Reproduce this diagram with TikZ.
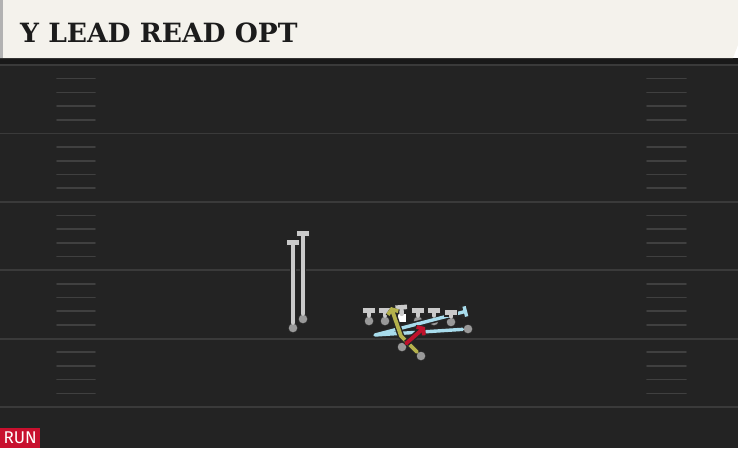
\documentclass[tikz,border=0pt]{standalone}
\usepackage{fontspec}
\setmainfont{DejaVu Serif}
\newfontfamily\tagfont{Fira Sans}
\usetikzlibrary{arrows.meta,positioning}
\definecolor{paper}{HTML}{F4F2EC}
\definecolor{turf}{HTML}{232323}
\definecolor{yardgrey}{HTML}{3A3A3A}
\definecolor{hashgrey}{HTML}{404040}
\definecolor{blockgrey}{HTML}{CACACA}
\definecolor{optyellow}{HTML}{B4B14C}
\definecolor{qbred}{HTML}{C0122C}
\definecolor{motionblue}{HTML}{A8DCEC}
\definecolor{runred}{HTML}{C8102E}
\definecolor{titleink}{HTML}{1C1C1C}
\begin{document}
\begin{tikzpicture}[x=1pt,y=-1pt,
				player/.style={circle,draw=black!85,fill=black!40,line width=1pt,inner sep=0pt,minimum size=10pt},
				ball/.style={rectangle,fill=white,inner sep=0pt,minimum size=8pt},
				outl/.style={line cap=round,line join=round,preaction={draw=black!85,line width=6.6pt}},
				blk/.style={outl,draw=blockgrey,line width=4.6pt,-{Bar[width=7pt 1]}},
				optrt/.style={outl,draw=optyellow,line width=3.8pt,-{Straight Barb[length=4pt,width=11pt]}},
				qbrt/.style={outl,draw=qbred,line width=3.8pt,-{Straight Barb[length=4pt,width=11pt]}},
				motrt/.style={outl,draw=motionblue,line width=3.4pt,-{Bar[width=7pt 1]}},
				yard/.style={draw=yardgrey,line width=1.8pt},
				hash/.style={draw=hashgrey,line width=1.6pt,line cap=round}]
				\useasboundingbox (0,0) rectangle (738,448);
				% field and header
				\fill[turf] (0,58) rectangle (738,448);
				\fill[black!90] (0,58) rectangle (738,64);
				\fill[paper] (0,0) -- (738,0) -- (738,45) -- (733,58) -- (0,58) -- cycle;
				\fill[black!30] (0,0) rectangle (3,58);
				\foreach \k in {0,...,5}
					\draw[yard] (0,{65+68.4*\k}) -- (738,{65+68.4*\k});
				\foreach \k in {0,...,4}
					\foreach \j in {1,...,4} {
						\draw[hash] (57,{65+68.4*\k+13.68*\j}) -- (95,{65+68.4*\k+13.68*\j});
						\draw[hash] (647,{65+68.4*\k+13.68*\j}) -- (686,{65+68.4*\k+13.68*\j});
					}
				\node[anchor=base west,inner sep=0pt,text=titleink,font=\bfseries\fontsize{26.5}{30}\selectfont] (title) at (20,42) {Y LEAD READ OPT};
				\node[anchor=south west,fill=runred,text=white,inner sep=0pt,minimum width=40pt,minimum height=20pt,font=\tagfont\fontsize{17}{17}\selectfont] (tag) at (0,448) {RUN};

				% players
				\node[player] (WRL) at (293,328) {};
				\node[player] (WRR) at (303,319) {};
				\node[player] (LT)  at (369,321) {};
				\node[player] (LG)  at (385,321) {};
				\node[ball]   (C)   at (402,318) {};
				\node[player] (RG)  at (418,321) {};
				\node[player] (RT)  at (434,321) {};
				\node[player] (TE)  at (451,322) {};
				\node[player] (QB)  at (402,347) {};
				\node[player] (RB)  at (421,356) {};
				\node[player] (H)   at (468,329) {};

				\coordinate (WRLT) at (293,240);
				\coordinate (WRRT) at (303,231);
				\coordinate (LTT)  at (369,308);
				\coordinate (LGT)  at (385,308);
				\coordinate (CT)   at (401,305);
				\coordinate (RGT)  at (418,308);
				\coordinate (RTT)  at (434,308);
				\coordinate (TET)  at (451,310);
				\coordinate (HTURN) at (375,335);
				\coordinate (HEND)  at (467,311);
				\coordinate (RBCUT) at (401,336);
				\coordinate (RBEND) at (391,307);
				\coordinate (QBEND) at (425,327);

				\draw[motrt] (H) -- (HTURN) -- (HEND);
				\draw[blk] (WRL) -- (WRLT);
				\draw[blk] (WRR) -- (WRRT);
				\draw[blk] (LT) -- (LTT);
				\draw[blk] (LG) -- (LGT);
				\draw[blk] (C) -- (CT);
				\draw[blk] (RG) -- (RGT);
				\draw[blk] (RT) -- (RTT);
				\draw[blk] (TE) -- (TET);
				\draw[optrt] (RB) -- (RBCUT) -- (RBEND);
				\draw[qbrt] (QB) -- (QBEND);
			\end{tikzpicture}
\end{document}
